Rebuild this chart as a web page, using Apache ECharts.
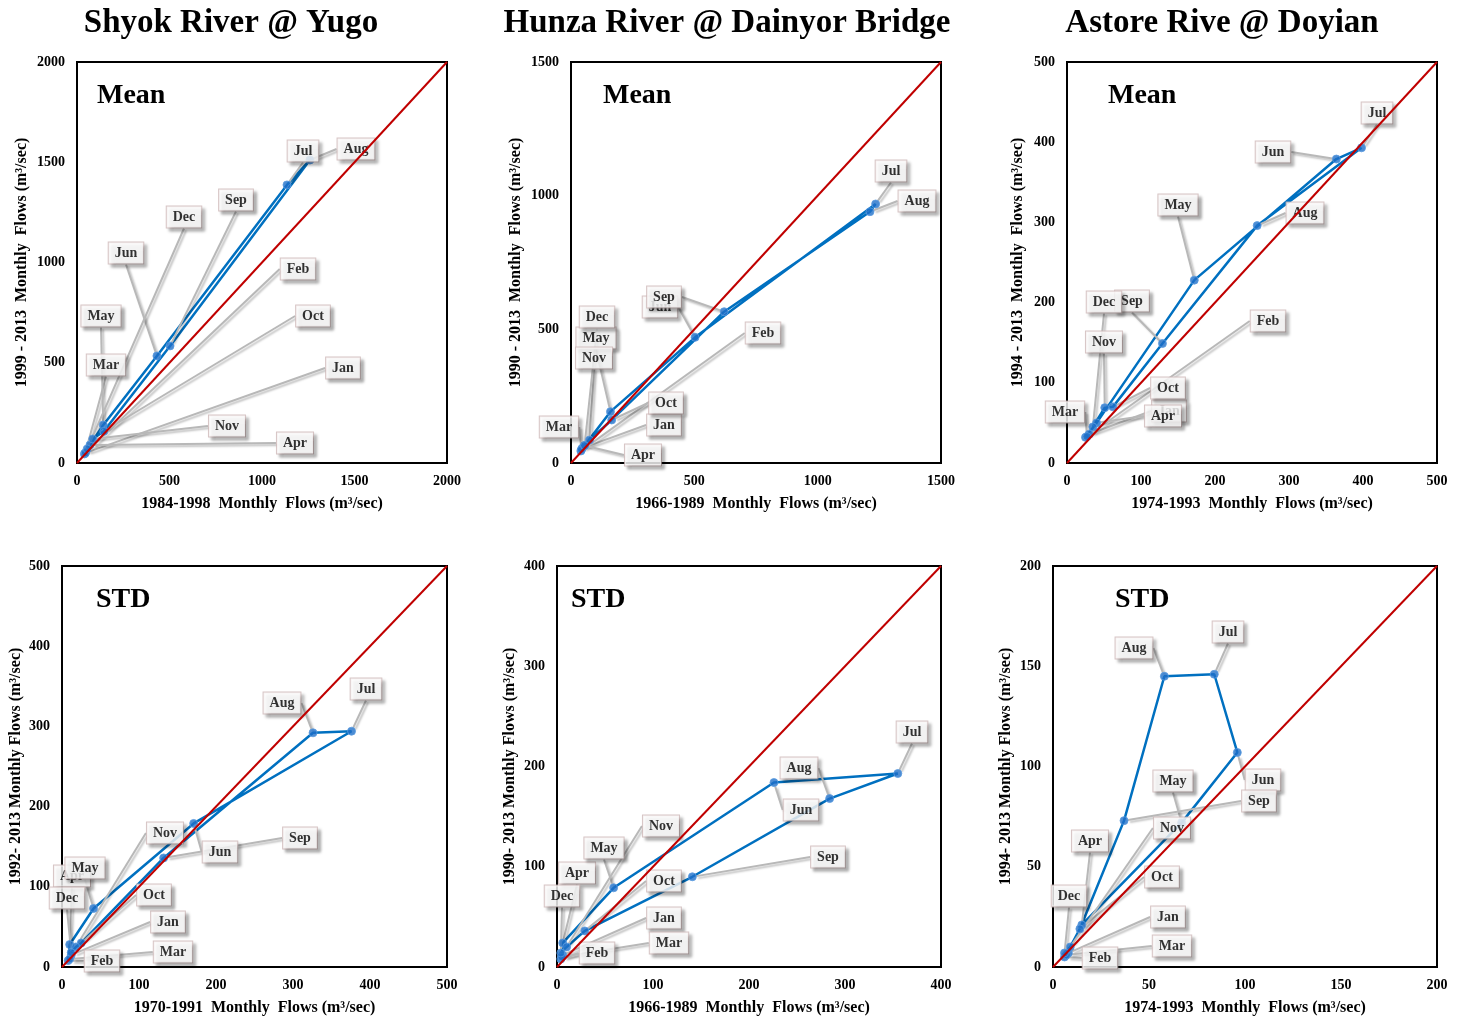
<!DOCTYPE html>
<html><head><meta charset="utf-8">
<script src="https://cdn.jsdelivr.net/npm/echarts@6/dist/echarts.min.js"></script>
<style>html,body{margin:0;padding:0;background:#fff}#c{width:1465px;height:1021px}</style>
</head><body><div id="c"></div>
<script>
// ---------- DATA ----------
const months = ['Jan','Feb','Mar','Apr','May','Jun','Jul','Aug','Sep','Oct','Nov','Dec'];

// Mean monthly flows (x = earlier period, y = later period)
const shyokMeanX = [45, 40, 45, 70, 142, 432, 1135, 1259, 503, 145, 85, 55];
const shyokMeanY = [50, 45, 50, 90, 190, 534, 1387, 1511, 584, 158, 120, 70];
const hunzaMeanX = [45, 40, 42, 55, 160, 503, 1235, 1212, 621, 165, 75, 55];
const hunzaMeanY = [55, 45, 50, 65, 192, 470, 969, 940, 566, 161, 86, 65];
const astoreMeanX = [30, 25, 27, 40, 172, 364, 398, 257, 129, 62, 51, 35];
const astoreMeanY = [36, 32, 33, 50, 228, 379, 393, 296, 149, 70, 69, 45];

// Standard deviation of monthly flows
const shyokStdX = [12, 8, 10, 10, 41, 171, 376, 326, 132, 25, 18, 12];
const shyokStdY = [15, 8, 10, 28, 73, 179, 294, 292, 136, 30, 25, 18];
const hunzaStdX = [6, 4, 5, 6, 59, 226, 355, 284, 141, 29, 10, 4];
const hunzaStdY = [12, 8, 10, 24, 79, 184, 193, 168, 90, 36, 20, 14];
const astoreStdX = [8, 6, 7, 15, 67, 96, 84, 58, 37, 14, 9, 6];
const astoreStdY = [7, 5, 6, 21, 72, 107, 146, 145, 73, 19, 10, 7];

// Axis ranges / ticks
const axisMax = [2000, 1500, 500, 500, 400, 200];
const axisInterval = [500, 500, 100, 100, 100, 50];

// Texts
const riverTitles = ['Shyok River @ Yugo', 'Hunza River @ Dainyor Bridge', 'Astore Rive @ Doyian'];
const panelTags = ['Mean', 'Mean', 'Mean', 'STD', 'STD', 'STD'];
const xNames = ['1984-1998  Monthly  Flows (m\u00B3/sec)', '1966-1989  Monthly  Flows (m\u00B3/sec)', '1974-1993  Monthly  Flows (m\u00B3/sec)',
                '1970-1991  Monthly  Flows (m\u00B3/sec)', '1966-1989  Monthly  Flows (m\u00B3/sec)', '1974-1993  Monthly  Flows (m\u00B3/sec)'];
const yNames = ['1999 - 2013  Monthly  Flows (m\u00B3/sec)', '1990 - 2013  Monthly  Flows (m\u00B3/sec)', '1994 - 2013  Monthly  Flows (m\u00B3/sec)',
                '1992- 2013 Monthly Flows (m\u00B3/sec)', '1990- 2013 Monthly Flows (m\u00B3/sec)', '1994- 2013 Monthly Flows (m\u00B3/sec)'];

const panelX = [shyokMeanX, hunzaMeanX, astoreMeanX, shyokStdX, hunzaStdX, astoreStdX];
const panelY = [shyokMeanY, hunzaMeanY, astoreMeanY, shyokStdY, hunzaStdY, astoreStdY];

// ---------- LAYOUT ----------
const grids = [
  {left: 77, top: 62, width: 370, height: 401},
  {left: 571, top: 62, width: 370, height: 401},
  {left: 1067, top: 62, width: 370, height: 401},
  {left: 62, top: 566, width: 385, height: 401},
  {left: 557, top: 566, width: 384, height: 401},
  {left: 1053, top: 566, width: 384, height: 401}
];
const yNameGaps = [47, 47, 41, 38, 39, 39];
const titleCenters = [[231, 23], [727, 23], [1222, 23]];
const tagPos = [[97, 96], [603, 96], [1108, 96], [96, 600], [571, 600], [1115, 600]];
// label box centres relative to grid top-left, Jan..Dec
const labelPos = [
  [[266,306],[221,207],[29,303],[218,381],[24,254],[49,191],[226,89],[279,87],[159,138],[236,254],[150,364],[107,155]],
  [[93,363],[192,271],[-12,365],[72,393],[25,276],[89,245],[320,109],[346,139],[93,235],[95,341],[23,296],[26,255]],
  [[102,349],[201,259],[-2,350],[96,354],[111,143],[206,90],[310,51],[238,151],[65,239],[101,326],[37,280],[37,240]],
  [[106,356],[40,395],[111,386],[10,310],[23,302],[158,286],[304,123],[220,137],[238,272],[92,329],[103,267],[5,332]],
  [[107,352],[40,387],[112,377],[20,307],[47,282],[244,244],[355,166],[242,202],[271,291],[107,315],[104,260],[5,330]],
  [[115,351],[47,392],[119,380],[37,275],[120,215],[210,214],[175,66],[81,82],[206,235],[109,311],[119,262],[16,330]]
];

const FONT = '"Liberation Serif", "Times New Roman", serif';

const chart = echarts.init(document.getElementById('c'), null, {renderer: 'canvas'});

const option = {
  animation: false,
  backgroundColor: '#fff',
  grid: [], xAxis: [], yAxis: [], series: [], graphic: []
};

grids.forEach((g, k) => {
  option.grid.push({left: g.left, top: g.top, width: g.width, height: g.height,
    show: true, borderColor: '#000', borderWidth: 2, backgroundColor: 'transparent', containLabel: false});
  const axisCommon = {
    type: 'value', gridIndex: k, min: 0, max: axisMax[k], interval: axisInterval[k],
    splitLine: {show: false}, axisTick: {show: false},
    axisLine: {show: true, lineStyle: {color: '#000', width: 2}},
    axisLabel: {color: '#000', fontFamily: FONT, fontWeight: 'bold', fontSize: 14, margin: 11,
      showMinLabel: true, showMaxLabel: true, formatter: v => String(v)},
    nameLocation: 'middle',
    nameTextStyle: {color: '#000', fontFamily: FONT, fontWeight: 'bold', fontSize: 16}
  };
  option.xAxis.push(Object.assign({}, axisCommon, {name: xNames[k], nameGap: 33}));
  option.yAxis.push(Object.assign({}, axisCommon, {name: yNames[k], nameGap: yNameGaps[k],
    axisLabel: Object.assign({}, axisCommon.axisLabel, {margin: 12})}));

  const pts = panelX[k].map((x, i) => [x, panelY[k][i]]);

  option.series.push({
    type: 'line', xAxisIndex: k, yAxisIndex: k, data: pts, showSymbol: false, z: 3,
    lineStyle: {color: '#0070C0', width: 2.5}, silent: true
  });
  option.series.push({
    type: 'scatter', xAxisIndex: k, yAxisIndex: k, data: pts, z: 4,
    symbol: 'circle', symbolSize: 8,
    itemStyle: {color: '#1f6fc8', borderColor: '#5a9be0', borderWidth: 1},
    label: {
      show: true, position: 'inside',
      formatter: p => months[p.dataIndex],
      color: '#000', fontFamily: FONT, fontWeight: 'bold', fontSize: 14,
      backgroundColor: '#fff', borderColor: '#cdb6b6', borderWidth: 1,
      padding: [4, 6, 3, 6],
      shadowColor: 'rgba(0,0,0,0.35)', shadowBlur: 3, shadowOffsetX: 3, shadowOffsetY: 3
    },
    labelLine: {show: true, lineStyle: {color: '#b8b8b8', width: 2,
      shadowColor: 'rgba(0,0,0,0.25)', shadowBlur: 2, shadowOffsetX: 2, shadowOffsetY: 2}},
    labelLayout: function (p) {
      const lp = labelPos[k][p.dataIndex];
      return {x: g.left + lp[0], y: g.top + lp[1], align: 'center', verticalAlign: 'middle'};
    }
  });
  option.series.push({
    type: 'line', xAxisIndex: k, yAxisIndex: k, data: [[0, 0], [axisMax[k], axisMax[k]]],
    showSymbol: false, z: 6, silent: true,
    lineStyle: {color: '#C00000', width: 2}
  });

  option.graphic.push({
    type: 'text', x: tagPos[k][0], y: tagPos[k][1], z: 10,
    style: {text: panelTags[k], font: 'bold 28px ' + FONT, fill: '#000', align: 'left', verticalAlign: 'middle'}
  });
});

riverTitles.forEach((t, i) => {
  option.graphic.push({
    type: 'text', x: titleCenters[i][0], y: titleCenters[i][1], z: 10,
    style: {text: t, font: 'bold 33px ' + FONT, fill: '#000', align: 'center', verticalAlign: 'middle'}
  });
});

chart.setOption(option);
</script>
</body></html>
